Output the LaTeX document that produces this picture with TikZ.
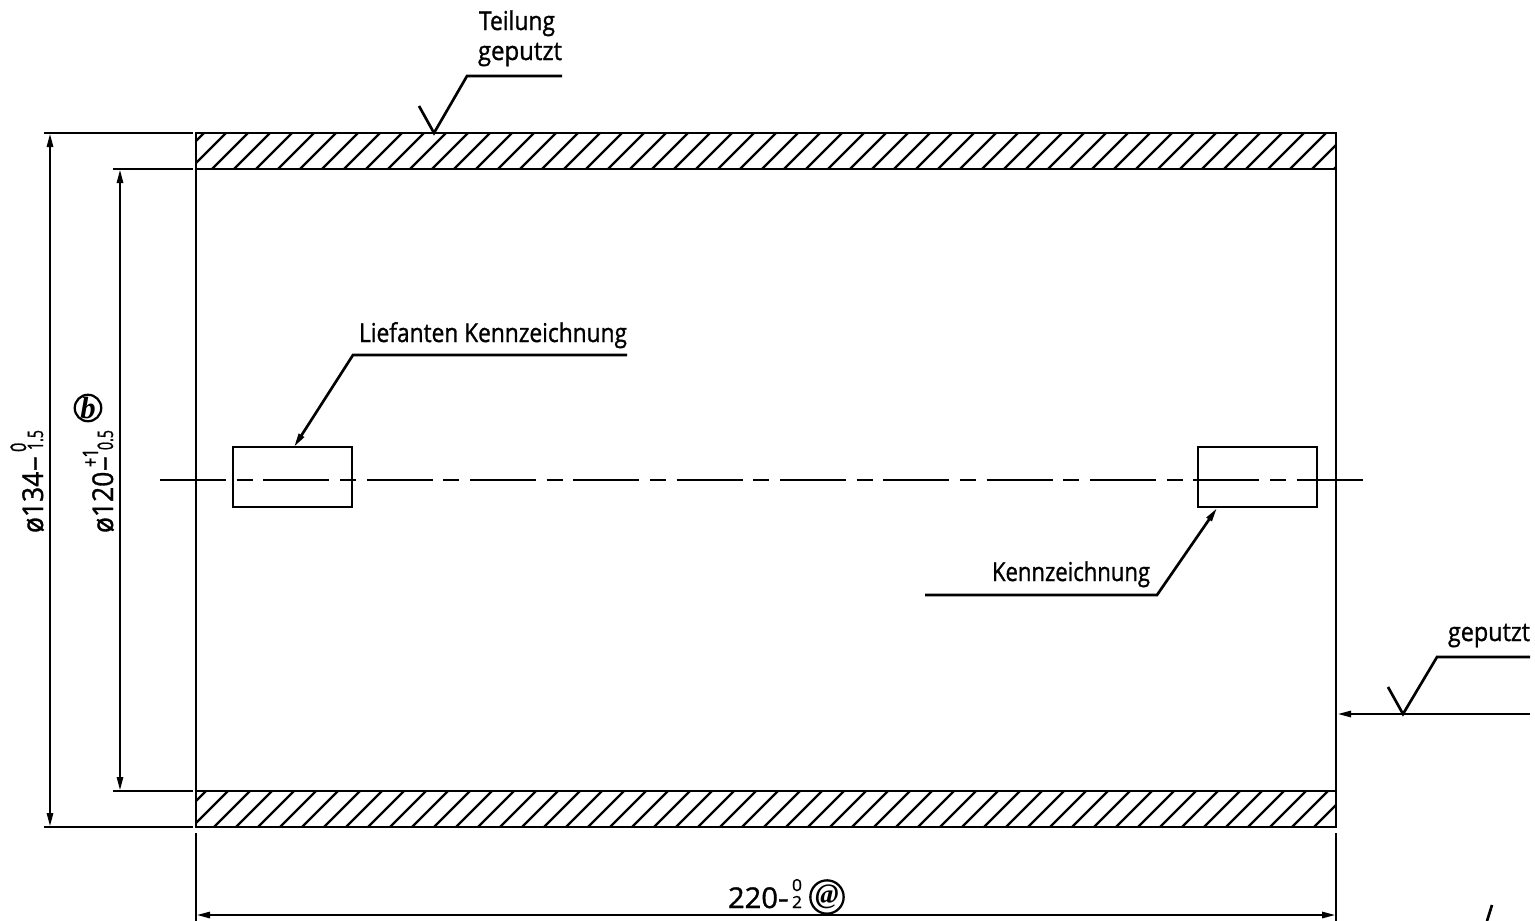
\documentclass[tikz,border=0pt]{standalone}
\usepackage{fontspec}
\usepackage{graphicx}
\setmainfont[FakeBold=1.2]{Open Sans}
\newfontfamily\circfont{Liberation Serif}
\usetikzlibrary{arrows.meta}
\newcommand{\fitw}[2]{\resizebox{#1}{\height}{#2}}
\tikzset{
  x=0.75pt,y=-0.75pt,
  ln/.style={line width=2pt,black,line cap=butt,line join=miter},
  hatchline/.style={line width=1.75pt,black},
  tip/.style={-{Triangle[length=10.5pt,width=4.5pt]}},
  tiptwo/.style={{Triangle[length=10.5pt,width=4.5pt]}-{Triangle[length=10.5pt,width=4.5pt]}},
  centerl/.style={line width=2pt,black,dash pattern=on 49.5pt off 8pt on 12pt off 8pt},
  lab/.style={anchor=base west,inner sep=0pt,outer sep=0pt,font=\fontsize{19.5}{20}\selectfont},
  dimlab/.style={anchor=base west,inner sep=0pt,outer sep=0pt,font=\fontsize{21.5}{22}\selectfont},
  tol/.style={anchor=base west,inner sep=0pt,outer sep=0pt,font=\fontsize{16}{16}\selectfont},
  tolsmall/.style={anchor=base west,inner sep=0pt,outer sep=0pt,font=\fontsize{12.5}{13}\selectfont},
  circ/.style={draw,circle,line width=1.7pt,inner sep=0pt,minimum size=18pt,font=\circfont\bfseries\itshape\fontsize{23}{23}\selectfont}
}
\begin{document}
\begin{tikzpicture}
\useasboundingbox (0,0) rectangle (1535,921);
% hatching
\begin{scope}
\clip (196,133) rectangle (1336,169);
\foreach \k in {0,...,53}{\draw[hatchline] ({204+22*\k},133) -- ({168+22*\k},169);}
\end{scope}
\begin{scope}
\clip (196,791) rectangle (1336,827);
\foreach \k in {0,...,53}{\draw[hatchline] ({206+22*\k},791) -- ({170+22*\k},827);}
\end{scope}
% body
\coordinate (tl) at (196,133); \coordinate (tr) at (1336,133);
\coordinate (bl) at (196,827); \coordinate (br) at (1336,827);
\coordinate (il) at (196,169); \coordinate (ir) at (1336,169);
\coordinate (jl) at (196,791); \coordinate (jr) at (1336,791);
\draw[ln] (tl) rectangle (br);
\draw[ln] (il) -- (ir);
\draw[ln] (jl) -- (jr);
% marks
\node[draw,ln,minimum width=89.3pt,minimum height=45pt,inner sep=0pt,outer sep=0pt,anchor=north west] (m1) at (233,447) {};
\node[draw,ln,minimum width=89.3pt,minimum height=45pt,inner sep=0pt,outer sep=0pt,anchor=north west] (m2) at (1198,447) {};
% centre line
\coordinate (c1) at (160,480); \coordinate (c2) at (1363,480);
\draw[centerl] (c1) -- (c2);
% extension lines
\coordinate (e1) at (44,133); \coordinate (e1b) at (193,133);
\coordinate (e2) at (113,169); \coordinate (e2b) at (193,169);
\coordinate (e3) at (113,791); \coordinate (e3b) at (193,791);
\coordinate (e4) at (44,827); \coordinate (e4b) at (193,827);
\draw[ln] (e1) -- (e1b); \draw[ln] (e2) -- (e2b);
\draw[ln] (e3) -- (e3b); \draw[ln] (e4) -- (e4b);
\coordinate (e5) at (196,833); \coordinate (e5b) at (196,921);
\coordinate (e6) at (1336,833); \coordinate (e6b) at (1336,921);
\draw[ln] (e5) -- (e5b); \draw[ln] (e6) -- (e6b);
% dimensions
\coordinate (d1a) at (50,133); \coordinate (d1b) at (50,827);
\coordinate (d2a) at (120,169); \coordinate (d2b) at (120,791);
\coordinate (d3a) at (196,915); \coordinate (d3b) at (1336,915);
\draw[ln,tiptwo] (d1a) -- (d1b);
\draw[ln,tiptwo] (d2a) -- (d2b);
\draw[ln,tiptwo] (d3a) -- (d3b);
% leader: Teilung geputzt
\node[lab] (t1) at (479,30) {\fitw{57pt}{Teilung}};
\node[lab] (t2) at (478,60) {\fitw{63pt}{geputzt}};
\coordinate (a1) at (562,76); \coordinate (a2) at (467,76); \coordinate (a3) at (434,133); \coordinate (a4) at (419,106);
\draw[ln] (a1) -- (a2) -- (a3) -- (a4);
% leader: Liefanten
\node[lab] (t3) at (359,342) {\fitw{201pt}{Liefanten Kennzeichnung}};
\coordinate (b1) at (627,355); \coordinate (b2) at (353,355); \coordinate (b3) at (294,447);
\draw[ln,tip] (b1) -- (b2) -- (b3);
% leader: Kennzeichnung
\node[lab] (t4) at (992,581) {\fitw{118.5pt}{Kennzeichnung}};
\coordinate (k1) at (925,595); \coordinate (k2) at (1157,595); \coordinate (k3) at (1217,508);
\draw[ln,tip] (k1) -- (k2) -- (k3);
% leader: geputzt right
\node[lab] (t5) at (1448,641) {\fitw{61.5pt}{geputzt}};
\coordinate (g1) at (1530,657); \coordinate (g2) at (1437,657); \coordinate (g3) at (1403,714); \coordinate (g4) at (1388,687);
\draw[ln] (g1) -- (g2) -- (g3) -- (g4);
\coordinate (h1) at (1530,714); \coordinate (h2) at (1337,714);
\draw[ln,tip] (h1) -- (h2);
% stray stroke
\coordinate (s1) at (1492,905); \coordinate (s2) at (1487,921);
\draw[ln] (s1) -- (s2);
% dimension texts
\node[dimlab,rotate=90] (v1) at (43,533) {\fitw{46pt}{ø134}\fitw{12pt}{-}};
\node[tol,rotate=90] (v1a) at (26,452) {\fitw{7pt}{0}};
\node[tol,rotate=90] (v1b) at (43,450) {\fitw{15pt}{1.5}};
\node[dimlab,rotate=90] (v2) at (113,533) {\fitw{46pt}{ø120}\fitw{12pt}{-}};
\node[tol,rotate=90] (v2a) at (98,467) {\fitw{14pt}{+1}};
\node[tol,rotate=90] (v2b) at (113,450) {\fitw{15pt}{0.5}};
\node[circ] (cb) at (88,408) {b};
\node[dimlab] (w1) at (728,908) {\fitw{37.5pt}{220}\fitw{8pt}{-}};
\node[tolsmall] (w2) at (792,891) {\fitw{7.5pt}{0}};
\node[tolsmall] (w3) at (792,908) {\fitw{7.5pt}{2}};
\node[circ] (ca) at (827,897) {\fontsize{21}{21}\selectfont @};
\end{tikzpicture}
\end{document}
